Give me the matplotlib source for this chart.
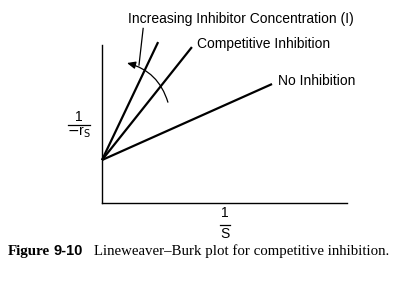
import matplotlib
matplotlib.use("Agg")
import matplotlib.pyplot as plt
import numpy as np

# Data (normalized Lineweaver-Burk sketch: 1/S vs 1/-r_s)
intercept = 0.272
series_names = ["No Inhibition", "Competitive Inhibition", "Higher inhibitor"]
slopes = [0.693, 1.948, 3.26]
x_ends = [0.694, 0.367, 0.229]

W, H = 396, 287
fig = plt.figure(figsize=(W / 100, H / 100), dpi=100)
fig.patch.set_facecolor("white")

# axes origin at pixel (102, 203), width 245 px, height 158 px
ax = fig.add_axes([102 / W, (H - 203) / H, 245 / W, 158 / H])
ax.set_xlim(0, 1)
ax.set_ylim(0, 1)
for s in ["top", "right"]:
    ax.spines[s].set_visible(False)
for s in ["left", "bottom"]:
    ax.spines[s].set_linewidth(1.0)
    ax.spines[s].set_color("black")
ax.set_xticks([])
ax.set_yticks([])
ax.patch.set_alpha(0)

for m, xe in zip(slopes, x_ends):
    xs = np.array([0.0, xe])
    ax.plot(xs, intercept + m * xs, color="black", lw=1.6, clip_on=False,
            solid_capstyle="butt")

sans = "Liberation Sans"
fs = 10
ax.text(0.718, 0.77, "No Inhibition", fontsize=fs, family=sans, va="center", ha="left")
ax.text(0.388, 1.005, "Competitive Inhibition", fontsize=fs, family=sans, va="center", ha="left")
fig.text(128 / W, 1 - 19 / H, "Increasing Inhibitor Concentration (I)", fontsize=fs,
         family=sans, va="center", ha="left")

# curved arrow
ax.annotate("", xy=(0.102, 0.886), xytext=(0.269, 0.638),
            arrowprops=dict(arrowstyle="-|>,head_length=0.5,head_width=0.22",
                            color="black", lw=0.9,
                            connectionstyle="arc3,rad=0.28",
                            shrinkA=0, shrinkB=0), annotation_clip=False)
# pointer line from label
ax.plot([0.168, 0.151], [1.105, 0.873], color="black", lw=0.9, clip_on=False)

# axis labels as fractions
def frac(xc, ytop_num, ybar, ybot_den, num, den, width):
    fig.text(xc / W, 1 - ytop_num / H, num, fontsize=fs, family=sans, ha="center", va="center")
    fig.add_artist(plt.Line2D([(xc - width / 2) / W, (xc + width / 2) / W],
                              [1 - ybar / H, 1 - ybar / H], color="black", lw=0.9))
    fig.text(xc / W, 1 - ybot_den / H, den, fontsize=fs, family=sans, ha="center", va="center")

frac(79, 117, 124.5, 132, "1", r"$-$r$_{\mathrm{S}}$", 22)
frac(225, 213, 225, 234, "1", "S", 10)

# caption
cap_y = 1 - 251 / H
fig.text(8 / W, cap_y, "Figure", fontsize=10.8, family="Liberation Serif",
         weight="bold", va="center", ha="left")
fig.text(53 / W, cap_y, "9-10", fontsize=10.5, family="Liberation Sans",
         weight="bold", va="center", ha="left")
fig.text(94 / W, cap_y, "Lineweaver\u2013Burk plot for competitive inhibition.",
         fontsize=10.7, family="Liberation Serif", va="center", ha="left")

fig.savefig("out.png", dpi=100, facecolor="white")
